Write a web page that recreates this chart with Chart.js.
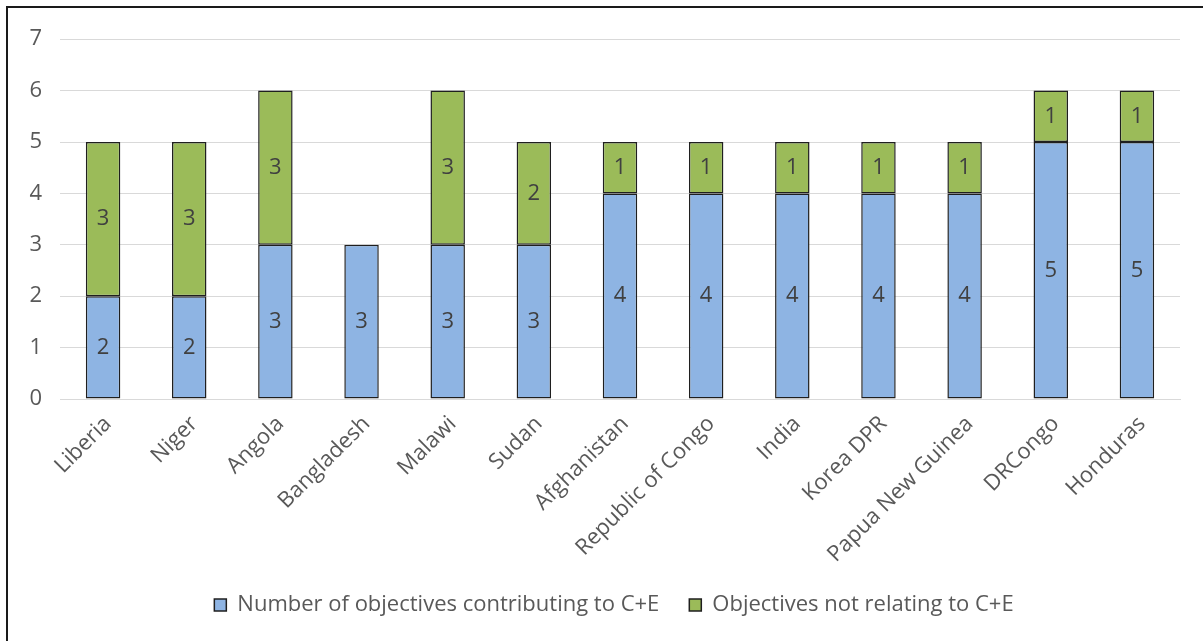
<!DOCTYPE html>
<html>
<head>
<meta charset="utf-8">
<script src="https://cdn.jsdelivr.net/npm/chart.js@4/dist/chart.umd.min.js"></script>
<style>
  body { margin: 0; background: #fff; }
  #frame {
    position: absolute; left: 6px; top: 6px;
    border-left: 2px solid #1a1a1a; border-top: 2px solid #1a1a1a;
  }
  canvas { display: block; }
</style>
</head>
<body>
<div id="frame"><canvas id="objectives-chart" width="1195" height="633"></canvas></div>
<script>
const countries = ['Liberia', 'Niger', 'Angola', 'Bangladesh', 'Malawi', 'Sudan', 'Afghanistan',
    'Republic of Congo', 'India', 'Korea DPR', 'Papua New Guinea', 'DRCongo', 'Honduras'];
const contributing = [2, 2, 3, 3, 3, 3, 4, 4, 4, 4, 4, 5, 5];
const notRelating = [3, 3, 3, null, 3, 2, 1, 1, 1, 1, 1, 1, 1];
const yTicks = [0, 1, 2, 3, 4, 5, 6, 7];

const FONT = "'Open Sans', sans-serif";

// writes each segment's value in the middle of its bar
const segmentLabels = {
    id: 'segmentLabels',
    afterDatasetsDraw(chart) {
        const ctx = chart.ctx;
        ctx.save();
        ctx.font = '22px ' + FONT;
        ctx.fillStyle = '#404040';
        ctx.textAlign = 'center';
        ctx.textBaseline = 'middle';
        chart.data.datasets.forEach((ds, i) => {
            chart.getDatasetMeta(i).data.forEach((bar, j) => {
                const v = ds.data[j];
                if (v == null) return;
                ctx.fillText(String(v), bar.x, (bar.y + bar.base) / 2);
            });
        });
        ctx.restore();
    }
};

// nudges the legend a little to the right of the canvas centre
const legendShift = {
    id: 'legendShift',
    afterLayout(chart) {
        const lg = chart.legend;
        if (!lg) return;
        lg.left += 20;
        lg.right += 20;
    }
};

const ctx = document.getElementById('objectives-chart').getContext('2d');
const chart = new Chart(ctx, {
    type: 'bar',
    data: {
        labels: countries,
        datasets: [{
            label: 'Number of objectives contributing to C+E',
            data: contributing,
            backgroundColor: '#8eb4e3',
            borderColor: '#1f1f1f',
            borderWidth: 1.5,
            borderSkipped: false
        }, {
            label: 'Objectives not relating to C+E',
            data: notRelating,
            backgroundColor: '#9bbb59',
            borderColor: '#1f1f1f',
            borderWidth: 1.5,
            borderSkipped: false
        }]
    },
    options: {
        responsive: false,
        animation: false,
        barPercentage: 0.4,
        categoryPercentage: 1,
        layout: { padding: { left: 0, right: 23, top: 29, bottom: 15 } },
        scales: {
            x: {
                stacked: true,
                grid: { display: false },
                border: { color: '#d9d9d9', width: 1 },
                ticks: {
                    color: '#595959',
                    font: { family: FONT, size: 22 },
                    minRotation: 45,
                    maxRotation: 45,
                    labelOffset: 5,
                    padding: 4
                },
                afterFit(scale) { scale.height = 165; }
            },
            y: {
                stacked: true,
                min: 0,
                max: 7,
                afterBuildTicks(scale) { scale.ticks = yTicks.map(v => ({ value: v })); },
                grid: { color: '#d9d9d9', lineWidth: 1, drawTicks: false },
                border: { display: false },
                ticks: {
                    color: '#595959',
                    font: { family: FONT, size: 22 },
                    padding: 18
                },
                afterFit(scale) { scale.width = 52; }
            }
        },
        plugins: {
            legend: {
                position: 'bottom',
                labels: {
                    color: '#595959',
                    font: { family: FONT, size: 22 },
                    boxWidth: 12,
                    boxHeight: 12,
                    padding: 30
                }
            },
            tooltip: { enabled: false }
        }
    },
    plugins: [segmentLabels, legendShift]
});
</script>
</body>
</html>
